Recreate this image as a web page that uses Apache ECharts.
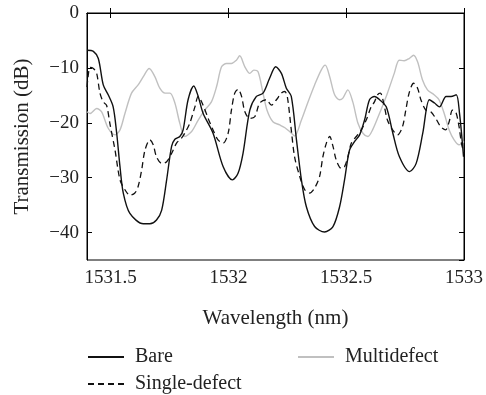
<!DOCTYPE html>
<html>
<head>
<meta charset="utf-8">
<script src="https://cdn.jsdelivr.net/npm/echarts@6/dist/echarts.min.js"></script>
<style>
html,body{margin:0;padding:0;background:#fff;}
#chart{width:486px;height:395px;}
</style>
</head>
<body>
<div id="chart"></div>
<script>
// Wavelength (nm) / Transmission (dB) pairs
const bareWl = [1531.400,1531.427,1531.448,1531.469,1531.490,1531.511,1531.526,1531.540,1531.554,1531.582,1531.639,1531.667,1531.695,1531.717,1531.738,1531.759,1531.773,1531.794,1531.808,1531.829,1531.853,1531.872,1531.893,1531.935,1531.978,1532.017,1532.041,1532.062,1532.091,1532.119,1532.147,1532.175,1532.201,1532.225,1532.246,1532.267,1532.289,1532.310,1532.331,1532.366,1532.408,1532.444,1532.472,1532.493,1532.514,1532.536,1532.557,1532.578,1532.599,1532.620,1532.642,1532.670,1532.698,1532.726,1532.769,1532.797,1532.825,1532.853,1532.875,1532.896,1532.924,1532.945,1532.967,1532.981,1532.998];
const bareDb = [-6.8,-7.0,-8.3,-13.1,-14.9,-17.1,-21.9,-28.0,-32.8,-36.5,-38.4,-38.4,-37.7,-35.9,-30.4,-24.3,-23.0,-22.5,-21.3,-15.8,-13.3,-15.2,-18.3,-21.9,-28.0,-30.4,-29.2,-25.6,-17.7,-15.2,-14.6,-11.9,-9.8,-11.0,-13.7,-15.2,-23.1,-30.4,-35.3,-38.9,-39.9,-38.9,-35.3,-30.4,-25.0,-23.4,-22.2,-19.5,-15.8,-15.2,-15.8,-17.1,-21.9,-26.2,-28.9,-27.4,-21.9,-15.8,-16.4,-17.1,-15.2,-15.2,-14.9,-18.3,-26.2];

const singleWl = [1531.400,1531.403,1531.413,1531.427,1531.441,1531.455,1531.469,1531.483,1531.497,1531.519,1531.540,1531.561,1531.582,1531.603,1531.617,1531.632,1531.646,1531.667,1531.681,1531.695,1531.717,1531.738,1531.759,1531.780,1531.801,1531.815,1531.836,1531.858,1531.872,1531.893,1531.914,1531.935,1531.956,1531.978,1531.999,1532.013,1532.027,1532.041,1532.056,1532.070,1532.091,1532.112,1532.133,1532.161,1532.183,1532.204,1532.225,1532.239,1532.250,1532.267,1532.281,1532.303,1532.324,1532.345,1532.366,1532.387,1532.401,1532.416,1532.430,1532.444,1532.458,1532.479,1532.493,1532.507,1532.522,1532.543,1532.564,1532.585,1532.606,1532.620,1532.633,1532.645,1532.659,1532.675,1532.697,1532.718,1532.739,1532.753,1532.767,1532.786,1532.803,1532.817,1532.838,1532.859,1532.880,1532.901,1532.922,1532.937,1532.951,1532.965,1532.979,1532.989,1533.000];
const singleDb = [-13.5,-12.2,-9.9,-10.1,-11.0,-14.6,-16.2,-16.8,-20.1,-25.0,-30.4,-32.2,-33.2,-32.8,-31.6,-28.6,-25.0,-23.1,-24.0,-26.2,-27.4,-27.1,-25.6,-23.7,-22.8,-21.9,-20.1,-17.1,-15.2,-16.8,-19.2,-21.3,-23.1,-23.7,-21.9,-17.7,-14.6,-13.9,-15.2,-18.0,-19.2,-18.9,-16.4,-15.8,-16.8,-15.8,-14.6,-14.3,-15.2,-21.3,-26.2,-29.8,-32.2,-32.8,-31.9,-29.8,-26.2,-23.7,-22.5,-24.3,-26.8,-28.3,-28.0,-26.2,-23.7,-22.5,-21.3,-19.5,-17.1,-16.2,-14.9,-14.6,-16.4,-19.5,-21.3,-22.2,-20.7,-17.7,-14.6,-12.8,-13.7,-15.8,-17.7,-18.0,-19.2,-20.7,-21.3,-19.8,-17.7,-18.0,-20.7,-23.7,-25.6];

const multiWl = [1531.400,1531.413,1531.441,1531.462,1531.490,1531.519,1531.540,1531.561,1531.589,1531.617,1531.639,1531.664,1531.688,1531.709,1531.731,1531.752,1531.773,1531.794,1531.815,1531.844,1531.872,1531.900,1531.928,1531.950,1531.971,1531.992,1532.013,1532.034,1532.048,1532.070,1532.091,1532.108,1532.126,1532.147,1532.164,1532.189,1532.218,1532.240,1532.260,1532.281,1532.310,1532.338,1532.366,1532.394,1532.411,1532.430,1532.451,1532.472,1532.486,1532.507,1532.528,1532.550,1532.571,1532.592,1532.612,1532.647,1532.675,1532.704,1532.725,1532.746,1532.767,1532.786,1532.803,1532.824,1532.845,1532.873,1532.894,1532.916,1532.937,1532.958,1532.979,1533.000];
const multiDb = [-18.0,-18.3,-17.4,-18.0,-21.0,-22.2,-21.3,-18.3,-14.6,-13.1,-11.6,-10.1,-11.6,-13.7,-14.6,-14.6,-16.4,-20.1,-22.5,-21.6,-19.5,-17.7,-16.2,-13.4,-9.8,-9.2,-9.2,-8.6,-7.8,-9.8,-11.0,-10.4,-10.7,-14.6,-17.7,-19.8,-20.4,-20.9,-21.6,-22.4,-19.5,-16.2,-13.1,-10.4,-9.5,-11.6,-14.9,-15.8,-15.5,-14.0,-16.2,-20.1,-21.9,-22.5,-21.3,-17.7,-14.6,-11.0,-8.6,-8.7,-8.3,-7.7,-8.9,-12.2,-14.0,-14.9,-15.8,-18.3,-21.3,-23.1,-24.0,-23.4];

const seriesNames = ['Bare', 'Single-defect', 'Multidefect'];
const xTitle = 'Wavelength (nm)';
const yTitle = 'Transmission (dB)';

function pairs(xs, ys) { return xs.map((x, i) => [x, ys[i]]); }

const FONT = 'Liberation Serif';
const chart = echarts.init(document.getElementById('chart'), null, {renderer: 'canvas'});

const tickStyle = {show: true, inside: true, length: 5, lineStyle: {color: '#000', width: 1}};
const minusFmt = v => (v < 0 ? '\u2212' + Math.abs(v) : String(v));
const plainFmt = v => String(v);
const legendText = {fontFamily: FONT, fontSize: 20, color: '#222', padding: [0, 0, 0, 6]};
const legendBase = {itemWidth: 36, itemHeight: 14, itemStyle: {opacity: 0, borderWidth: 0}, textStyle: legendText};

chart.setOption({
  animation: false,
  backgroundColor: '#fff',
  grid: {left: 87, right: 22, top: 13, bottom: 135, show: true, borderColor: '#000', borderWidth: 1, backgroundColor: 'transparent'},
  legend: [
    Object.assign({data: [seriesNames[0]], left: 82, top: 342}, legendBase),
    Object.assign({data: [seriesNames[1]], left: 82, top: 369}, legendBase),
    Object.assign({data: [seriesNames[2]], left: 292, top: 342}, legendBase)
  ],
  xAxis: [
    {type: 'value', min: 1531.4, max: 1533, splitNumber: 3, position: 'bottom',
     axisLine: {show: true, lineStyle: {color: '#000'}}, axisTick: tickStyle, splitLine: {show: false},
     axisLabel: {showMinLabel: false, margin: 9, formatter: plainFmt, fontFamily: FONT, fontSize: 19, color: '#222'},
     name: xTitle, nameLocation: 'middle', nameGap: 48, nameTextStyle: {fontFamily: FONT, fontSize: 21, color: '#222'}},
    {type: 'value', min: 1531.4, max: 1533, splitNumber: 3, position: 'top',
     axisLine: {show: true, lineStyle: {color: '#000'}}, axisTick: tickStyle, splitLine: {show: false}, axisLabel: {show: false}}
  ],
  yAxis: [
    {type: 'value', min: -45, max: 0, splitNumber: 5, position: 'left',
     axisLine: {show: true, lineStyle: {color: '#000'}}, axisTick: tickStyle, splitLine: {show: false},
     axisLabel: {showMinLabel: false, margin: 8, formatter: minusFmt, fontFamily: FONT, fontSize: 19, color: '#222'},
     name: yTitle, nameLocation: 'middle', nameGap: 54, nameRotate: 90, nameTextStyle: {fontFamily: FONT, fontSize: 21, color: '#222'}},
    {type: 'value', min: -45, max: 0, splitNumber: 5, position: 'right',
     axisLine: {show: true, lineStyle: {color: '#000'}}, axisTick: tickStyle, splitLine: {show: false}, axisLabel: {show: false}}
  ],
  series: [
    {name: seriesNames[2], type: 'line', data: pairs(multiWl, multiDb), showSymbol: false, symbol: 'none', smooth: 0.3,
     itemStyle: {color: '#c0c0c0'}, lineStyle: {color: '#c0c0c0', width: 1.4}, z: 1},
    {name: seriesNames[1], type: 'line', data: pairs(singleWl, singleDb), showSymbol: false, symbol: 'none', smooth: 0.3,
     itemStyle: {color: '#111'}, lineStyle: {color: '#111', width: 1.3, type: [6, 4]}, z: 2},
    {name: seriesNames[0], type: 'line', data: pairs(bareWl, bareDb), showSymbol: false, symbol: 'none', smooth: 0.3,
     itemStyle: {color: '#111'}, lineStyle: {color: '#111', width: 1.4}, z: 3}
  ]
});
</script>
</body>
</html>
